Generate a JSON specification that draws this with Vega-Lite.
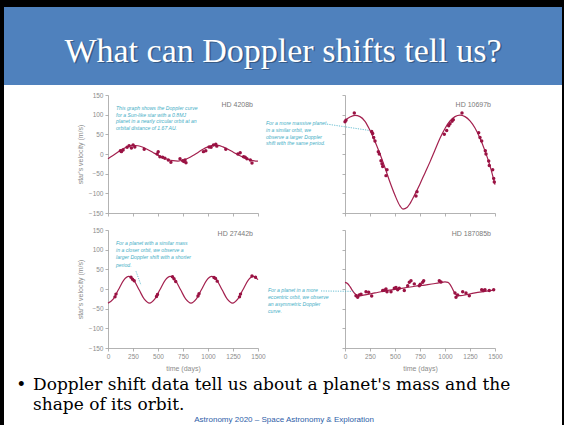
{
  "$schema": "https://vega.github.io/schema/vega-lite/v6.json",
  "padding": 0,
  "background": "white",
  "spacing": 0,
  "config": {
    "view": {"stroke": null},
    "concat": {"spacing": 0},
    "axis": {"grid": false, "domainColor": "#a0a0a0", "tickColor": "#a0a0a0", "domainWidth": 0.8, "tickWidth": 0.8, "tickSize": 3, "labelFont": "Liberation Sans", "labelFontSize": 6.5, "labelColor": "#8c8c8c", "labelPadding": 2, "labelOverlap": false, "labelFlush": false, "titleFont": "Liberation Sans", "titleFontSize": 7, "titleFontWeight": "normal", "titleColor": "#8c8c8c", "titlePadding": 5},
    "text": {"font": "Liberation Sans"}
  },
  "datasets": {
    "curves": [
      {"star":"HD 4208b","t":0,"v":-12},{"star":"HD 4208b","t":50,"v":-4},{"star":"HD 4208b","t":100,"v":5},{"star":"HD 4208b","t":150,"v":13},{"star":"HD 4208b","t":200,"v":19},{"star":"HD 4208b","t":250,"v":22},{"star":"HD 4208b","t":300,"v":21},{"star":"HD 4208b","t":350,"v":17},{"star":"HD 4208b","t":400,"v":11},{"star":"HD 4208b","t":450,"v":4},{"star":"HD 4208b","t":500,"v":-3},{"star":"HD 4208b","t":550,"v":-9},{"star":"HD 4208b","t":600,"v":-14},{"star":"HD 4208b","t":650,"v":-17},{"star":"HD 4208b","t":700,"v":-18},{"star":"HD 4208b","t":750,"v":-16},{"star":"HD 4208b","t":800,"v":-11},{"star":"HD 4208b","t":850,"v":-4},{"star":"HD 4208b","t":900,"v":4},{"star":"HD 4208b","t":950,"v":12},{"star":"HD 4208b","t":1000,"v":18},{"star":"HD 4208b","t":1050,"v":22},{"star":"HD 4208b","t":1100,"v":22},{"star":"HD 4208b","t":1150,"v":18},{"star":"HD 4208b","t":1200,"v":12},{"star":"HD 4208b","t":1250,"v":5},{"star":"HD 4208b","t":1300,"v":-2},{"star":"HD 4208b","t":1350,"v":-8},{"star":"HD 4208b","t":1400,"v":-13},{"star":"HD 4208b","t":1450,"v":-17},{"star":"HD 4208b","t":1500,"v":-18},
      {"star":"HD 10697b","t":0,"v":85},{"star":"HD 10697b","t":50,"v":94},{"star":"HD 10697b","t":100,"v":98},{"star":"HD 10697b","t":150,"v":95},{"star":"HD 10697b","t":200,"v":83},{"star":"HD 10697b","t":250,"v":60},{"star":"HD 10697b","t":300,"v":32},{"star":"HD 10697b","t":350,"v":0},{"star":"HD 10697b","t":400,"v":-35},{"star":"HD 10697b","t":450,"v":-72},{"star":"HD 10697b","t":500,"v":-105},{"star":"HD 10697b","t":550,"v":-132},{"star":"HD 10697b","t":580,"v":-140},{"star":"HD 10697b","t":620,"v":-136},{"star":"HD 10697b","t":650,"v":-126},{"star":"HD 10697b","t":700,"v":-102},{"star":"HD 10697b","t":750,"v":-76},{"star":"HD 10697b","t":800,"v":-48},{"star":"HD 10697b","t":850,"v":-20},{"star":"HD 10697b","t":900,"v":10},{"star":"HD 10697b","t":950,"v":40},{"star":"HD 10697b","t":1000,"v":65},{"star":"HD 10697b","t":1050,"v":84},{"star":"HD 10697b","t":1100,"v":95},{"star":"HD 10697b","t":1150,"v":99},{"star":"HD 10697b","t":1200,"v":95},{"star":"HD 10697b","t":1250,"v":84},{"star":"HD 10697b","t":1300,"v":66},{"star":"HD 10697b","t":1350,"v":40},{"star":"HD 10697b","t":1400,"v":8},{"star":"HD 10697b","t":1450,"v":-30},{"star":"HD 10697b","t":1500,"v":-78},
      {"star":"HD 27442b","t":0,"v":-36},{"star":"HD 27442b","t":52,"v":-26},{"star":"HD 27442b","t":104,"v":-2},{"star":"HD 27442b","t":156,"v":22},{"star":"HD 27442b","t":207,"v":32},{"star":"HD 27442b","t":259,"v":22},{"star":"HD 27442b","t":311,"v":-2},{"star":"HD 27442b","t":363,"v":-26},{"star":"HD 27442b","t":415,"v":-36},{"star":"HD 27442b","t":467,"v":-26},{"star":"HD 27442b","t":519,"v":-2},{"star":"HD 27442b","t":571,"v":22},{"star":"HD 27442b","t":622,"v":32},{"star":"HD 27442b","t":674,"v":22},{"star":"HD 27442b","t":726,"v":-2},{"star":"HD 27442b","t":778,"v":-26},{"star":"HD 27442b","t":830,"v":-36},{"star":"HD 27442b","t":882,"v":-26},{"star":"HD 27442b","t":934,"v":-2},{"star":"HD 27442b","t":986,"v":22},{"star":"HD 27442b","t":1037,"v":32},{"star":"HD 27442b","t":1089,"v":22},{"star":"HD 27442b","t":1141,"v":-2},{"star":"HD 27442b","t":1193,"v":-26},{"star":"HD 27442b","t":1245,"v":-36},{"star":"HD 27442b","t":1297,"v":-26},{"star":"HD 27442b","t":1349,"v":-2},{"star":"HD 27442b","t":1401,"v":22},{"star":"HD 27442b","t":1452,"v":32},{"star":"HD 27442b","t":1500,"v":24},
      {"star":"HD 187085b","t":0,"v":17},{"star":"HD 187085b","t":25,"v":14},{"star":"HD 187085b","t":50,"v":6},{"star":"HD 187085b","t":75,"v":-4},{"star":"HD 187085b","t":100,"v":-12},{"star":"HD 187085b","t":125,"v":-16},{"star":"HD 187085b","t":150,"v":-17},{"star":"HD 187085b","t":200,"v":-15},{"star":"HD 187085b","t":300,"v":-10},{"star":"HD 187085b","t":400,"v":-5},{"star":"HD 187085b","t":500,"v":-1},{"star":"HD 187085b","t":600,"v":3},{"star":"HD 187085b","t":700,"v":7},{"star":"HD 187085b","t":800,"v":10},{"star":"HD 187085b","t":900,"v":14},{"star":"HD 187085b","t":950,"v":16},{"star":"HD 187085b","t":1000,"v":18},{"star":"HD 187085b","t":1030,"v":17},{"star":"HD 187085b","t":1050,"v":12},{"star":"HD 187085b","t":1070,"v":3},{"star":"HD 187085b","t":1090,"v":-7},{"star":"HD 187085b","t":1110,"v":-14},{"star":"HD 187085b","t":1130,"v":-17},{"star":"HD 187085b","t":1160,"v":-17},{"star":"HD 187085b","t":1200,"v":-15},{"star":"HD 187085b","t":1300,"v":-10},{"star":"HD 187085b","t":1400,"v":-6},{"star":"HD 187085b","t":1500,"v":-2}
    ],
    "points": [
      {"star":"HD 4208b","t":124,"v":8},{"star":"HD 4208b","t":151,"v":10},{"star":"HD 4208b","t":134,"v":6},{"star":"HD 4208b","t":191,"v":17},{"star":"HD 4208b","t":211,"v":21},{"star":"HD 4208b","t":234,"v":15},{"star":"HD 4208b","t":251,"v":23},{"star":"HD 4208b","t":268,"v":18},{"star":"HD 4208b","t":362,"v":12},{"star":"HD 4208b","t":492,"v":0},{"star":"HD 4208b","t":502,"v":6},{"star":"HD 4208b","t":519,"v":-7},{"star":"HD 4208b","t":546,"v":-8},{"star":"HD 4208b","t":569,"v":-11},{"star":"HD 4208b","t":603,"v":-15},{"star":"HD 4208b","t":629,"v":-21},{"star":"HD 4208b","t":720,"v":-12},{"star":"HD 4208b","t":747,"v":-17},{"star":"HD 4208b","t":760,"v":-19},{"star":"HD 4208b","t":770,"v":-15},{"star":"HD 4208b","t":780,"v":-22},{"star":"HD 4208b","t":954,"v":6},{"star":"HD 4208b","t":978,"v":8},{"star":"HD 4208b","t":1011,"v":18},{"star":"HD 4208b","t":1031,"v":17},{"star":"HD 4208b","t":1055,"v":23},{"star":"HD 4208b","t":1078,"v":25},{"star":"HD 4208b","t":1088,"v":20},{"star":"HD 4208b","t":1178,"v":12},{"star":"HD 4208b","t":1299,"v":0},{"star":"HD 4208b","t":1322,"v":3},{"star":"HD 4208b","t":1356,"v":-7},{"star":"HD 4208b","t":1372,"v":-8},{"star":"HD 4208b","t":1389,"v":-12},{"star":"HD 4208b","t":1423,"v":-15},{"star":"HD 4208b","t":1440,"v":-23},
      {"star":"HD 10697b","t":0,"v":82},{"star":"HD 10697b","t":10,"v":86},{"star":"HD 10697b","t":93,"v":104},{"star":"HD 10697b","t":267,"v":57},{"star":"HD 10697b","t":277,"v":52},{"star":"HD 10697b","t":287,"v":42},{"star":"HD 10697b","t":300,"v":33},{"star":"HD 10697b","t":333,"v":6},{"star":"HD 10697b","t":343,"v":0},{"star":"HD 10697b","t":360,"v":-17},{"star":"HD 10697b","t":370,"v":-25},{"star":"HD 10697b","t":377,"v":-32},{"star":"HD 10697b","t":410,"v":-55},{"star":"HD 10697b","t":420,"v":-40},{"star":"HD 10697b","t":710,"v":-107},{"star":"HD 10697b","t":720,"v":-96},{"star":"HD 10697b","t":993,"v":50},{"star":"HD 10697b","t":1017,"v":60},{"star":"HD 10697b","t":1037,"v":72},{"star":"HD 10697b","t":1050,"v":77},{"star":"HD 10697b","t":1070,"v":83},{"star":"HD 10697b","t":1083,"v":87},{"star":"HD 10697b","t":1170,"v":104},{"star":"HD 10697b","t":1337,"v":54},{"star":"HD 10697b","t":1350,"v":42},{"star":"HD 10697b","t":1367,"v":33},{"star":"HD 10697b","t":1403,"v":8},{"star":"HD 10697b","t":1410,"v":0},{"star":"HD 10697b","t":1437,"v":-18},{"star":"HD 10697b","t":1443,"v":-29},{"star":"HD 10697b","t":1477,"v":-40},{"star":"HD 10697b","t":1487,"v":-62},{"star":"HD 10697b","t":1493,"v":-71},
      {"star":"HD 27442b","t":70,"v":-20},{"star":"HD 27442b","t":80,"v":-13},{"star":"HD 27442b","t":230,"v":30},{"star":"HD 27442b","t":245,"v":25},{"star":"HD 27442b","t":262,"v":21},{"star":"HD 27442b","t":485,"v":-19},{"star":"HD 27442b","t":495,"v":-14},{"star":"HD 27442b","t":645,"v":31},{"star":"HD 27442b","t":660,"v":26},{"star":"HD 27442b","t":677,"v":19},{"star":"HD 27442b","t":900,"v":-18},{"star":"HD 27442b","t":910,"v":-12},{"star":"HD 27442b","t":1060,"v":29},{"star":"HD 27442b","t":1075,"v":27},{"star":"HD 27442b","t":1092,"v":20},{"star":"HD 27442b","t":1315,"v":-20},{"star":"HD 27442b","t":1325,"v":-13},{"star":"HD 27442b","t":1440,"v":33},{"star":"HD 27442b","t":1475,"v":30},
      {"star":"HD 187085b","t":110,"v":-17},{"star":"HD 187085b","t":127,"v":-21},{"star":"HD 187085b","t":143,"v":-15},{"star":"HD 187085b","t":160,"v":-13},{"star":"HD 187085b","t":210,"v":-7},{"star":"HD 187085b","t":237,"v":-8},{"star":"HD 187085b","t":267,"v":-18},{"star":"HD 187085b","t":377,"v":-4},{"star":"HD 187085b","t":393,"v":-3},{"star":"HD 187085b","t":410,"v":0},{"star":"HD 187085b","t":420,"v":-7},{"star":"HD 187085b","t":460,"v":-7},{"star":"HD 187085b","t":493,"v":2},{"star":"HD 187085b","t":510,"v":4},{"star":"HD 187085b","t":527,"v":-2},{"star":"HD 187085b","t":543,"v":2},{"star":"HD 187085b","t":593,"v":-4},{"star":"HD 187085b","t":627,"v":8},{"star":"HD 187085b","t":643,"v":17},{"star":"HD 187085b","t":660,"v":21},{"star":"HD 187085b","t":693,"v":13},{"star":"HD 187085b","t":743,"v":8},{"star":"HD 187085b","t":753,"v":12},{"star":"HD 187085b","t":777,"v":17},{"star":"HD 187085b","t":787,"v":21},{"star":"HD 187085b","t":943,"v":21},{"star":"HD 187085b","t":960,"v":18},{"star":"HD 187085b","t":1100,"v":-10},{"star":"HD 187085b","t":1110,"v":-21},{"star":"HD 187085b","t":1127,"v":-15},{"star":"HD 187085b","t":1177,"v":-7},{"star":"HD 187085b","t":1210,"v":-10},{"star":"HD 187085b","t":1243,"v":-17},{"star":"HD 187085b","t":1367,"v":-2},{"star":"HD 187085b","t":1383,"v":-4},{"star":"HD 187085b","t":1400,"v":-2},{"star":"HD 187085b","t":1443,"v":-4},{"star":"HD 187085b","t":1487,"v":-2}
    ]
  },
  "hconcat": [
    {"width": 4, "height": 425, "view": {"fill": "#000000", "stroke": null}, "data": {"values": []}, "mark": "point"},
    {
      "spacing": 0,
      "vconcat": [
        {"width": 558, "height": 7, "view": {"fill": "#000000", "stroke": null}, "data": {"values": []}, "mark": "point"},
        {
          "width": 558, "height": 78,
          "view": {"fill": "#4f81bd", "stroke": null},
          "data": {"values": [{"title": "What can Doppler shifts tell us?"}]},
          "encoding": {
            "x": {"datum": 0.5, "type": "quantitative", "scale": {"domain": [0, 1]}, "axis": null},
            "y": {"datum": 0.7, "type": "quantitative", "scale": {"domain": [0, 1], "reverse": true}, "axis": null},
            "text": {"field": "title"}
          },
          "layer": [
            {"mark": {"type": "text", "font": "Liberation Serif", "fontSize": 34, "align": "center", "baseline": "alphabetic", "color": "#1c2f45", "opacity": 0.45, "dx": 1.5, "dy": 1.5}},
            {"mark": {"type": "text", "font": "Liberation Serif", "fontSize": 34, "align": "center", "baseline": "alphabetic", "color": "#ffffff"}}
          ]
        },
        {"width": 558, "height": 7, "data": {"values": []}, "mark": "point"},
        {
          "columns": 3,
          "align": "each",
          "spacing": {"row": 10, "column": 0},
          "concat": [
            {"width": 72, "height": 5, "data": {"values": []}, "mark": "point"},
            {
              "width": 150, "height": 118,
              "layer": [
                {"data": {"name": "curves"}, "transform": [{"filter": "datum.star === 'HD 4208b'"}], "mark": {"type": "line", "color": "#a3204e", "strokeWidth": 1.2, "interpolate": "monotone"},
                 "encoding": {
                   "x": {"field": "t", "type": "quantitative", "title": null, "scale": {"domain": [0, 1500], "nice": false}, "axis": {"values": [0, 250, 500, 750, 1000, 1250, 1500], "labels": false, "labelOverlap": false, "format": "d"}},
                   "y": {"field": "v", "type": "quantitative", "title": "star's velocity (m/s)", "scale": {"domain": [-150, 150], "nice": false}, "axis": {"values": [-150, -100, -50, 0, 50, 100, 150], "labelOverlap": false, "format": "d"}}
                 }},
                {"data": {"name": "points"}, "transform": [{"filter": "datum.star === 'HD 4208b'"}], "mark": {"type": "point", "shape": "circle", "filled": true, "size": 12, "color": "#9a1243", "opacity": 1},
                 "encoding": {
                   "x": {"field": "t", "type": "quantitative", "title": null, "axis": {"values": [0, 250, 500, 750, 1000, 1250, 1500], "labels": false, "labelOverlap": false, "format": "d"}},
                   "y": {"field": "v", "type": "quantitative", "title": "star's velocity (m/s)", "axis": {"values": [-150, -100, -50, 0, 50, 100, 150], "labelOverlap": false, "format": "d"}}
                 }},
                {"data": {"values": [{"note": "This graph shows the Doppler curve\nfor a Sun-like star with a 0.8MJ\nplanet in a nearly circular orbit at an\norbital distance of 1.67 AU."}]}, "mark": {"type": "text", "lineBreak": "\n", "align": "left", "baseline": "top", "font": "Liberation Sans, sans-serif", "fontStyle": "italic", "fontSize": 5.1, "lineHeight": 6.5, "color": "#45aec6"},
                 "encoding": {
                   "x": {"datum": 80, "type": "quantitative", "title": null, "axis": {"values": [0, 250, 500, 750, 1000, 1250, 1500], "labels": false, "labelOverlap": false, "format": "d"}},
                   "y": {"datum": 122, "type": "quantitative", "title": "star's velocity (m/s)", "axis": {"values": [-150, -100, -50, 0, 50, 100, 150], "labelOverlap": false, "format": "d"}},
                   "text": {"field": "note"}
                 }},
                {"data": {"values": [{"name": "HD 4208b"}]}, "mark": {"type": "text", "align": "right", "baseline": "middle", "fontSize": 7, "color": "#7a7a7a"},
                 "encoding": {
                   "x": {"datum": 1450, "type": "quantitative", "title": null, "axis": {"values": [0, 250, 500, 750, 1000, 1250, 1500], "labels": false, "labelOverlap": false, "format": "d"}},
                   "y": {"datum": 125, "type": "quantitative", "title": "star's velocity (m/s)", "axis": {"values": [-150, -100, -50, 0, 50, 100, 150], "labelOverlap": false, "format": "d"}},
                   "text": {"field": "name"}
                 }}
              ]
            },
            {
              "width": 150, "height": 118,
              "layer": [
                {"data": {"name": "curves"}, "transform": [{"filter": "datum.star === 'HD 10697b'"}], "mark": {"type": "line", "color": "#a3204e", "strokeWidth": 1.2, "interpolate": "monotone"},
                 "encoding": {
                   "x": {"field": "t", "type": "quantitative", "title": null, "scale": {"domain": [0, 1500], "nice": false}, "axis": {"values": [0, 250, 500, 750, 1000, 1250, 1500], "labels": false, "labelOverlap": false, "format": "d"}},
                   "y": {"field": "v", "type": "quantitative", "title": null, "scale": {"domain": [-150, 150], "nice": false}, "axis": {"values": [-150, -100, -50, 0, 50, 100, 150], "labels": false, "labelOverlap": false, "format": "d"}}
                 }},
                {"data": {"name": "points"}, "transform": [{"filter": "datum.star === 'HD 10697b'"}], "mark": {"type": "point", "shape": "circle", "filled": true, "size": 12, "color": "#9a1243", "opacity": 1},
                 "encoding": {
                   "x": {"field": "t", "type": "quantitative", "title": null, "axis": {"values": [0, 250, 500, 750, 1000, 1250, 1500], "labels": false, "labelOverlap": false, "format": "d"}},
                   "y": {"field": "v", "type": "quantitative", "title": null, "axis": {"values": [-150, -100, -50, 0, 50, 100, 150], "labels": false, "labelOverlap": false, "format": "d"}}
                 }},
                {"data": {"values": [{"note": "For a more massive planet\nin a similar orbit, we\nobserve a larger Doppler\nshift with the same period."}]}, "mark": {"type": "text", "lineBreak": "\n", "align": "left", "baseline": "top", "font": "Liberation Sans, sans-serif", "fontStyle": "italic", "fontSize": 5.1, "lineHeight": 6.8, "color": "#45aec6"},
                 "encoding": {
                   "x": {"datum": -790, "type": "quantitative", "title": null, "axis": {"values": [0, 250, 500, 750, 1000, 1250, 1500], "labels": false, "labelOverlap": false, "format": "d"}},
                   "y": {"datum": 84, "type": "quantitative", "title": null, "axis": {"values": [-150, -100, -50, 0, 50, 100, 150], "labels": false, "labelOverlap": false, "format": "d"}},
                   "text": {"field": "note"}
                 }},
                {"data": {"values": [{}]}, "mark": {"type": "rule", "strokeDash": [1.2, 1.2], "strokeWidth": 0.8, "color": "#45aec6"},
                 "encoding": {
                   "x": {"datum": -180, "type": "quantitative", "title": null, "axis": {"values": [0, 250, 500, 750, 1000, 1250, 1500], "labels": false, "labelOverlap": false, "format": "d"}},
                   "y": {"datum": 76, "type": "quantitative", "title": null, "axis": {"values": [-150, -100, -50, 0, 50, 100, 150], "labels": false, "labelOverlap": false, "format": "d"}},
                   "x2": {"datum": 240}, "y2": {"datum": 60}
                 }},
                {"data": {"values": [{"name": "HD 10697b"}]}, "mark": {"type": "text", "align": "right", "baseline": "middle", "fontSize": 7, "color": "#7a7a7a"},
                 "encoding": {
                   "x": {"datum": 1460, "type": "quantitative", "title": null, "axis": {"values": [0, 250, 500, 750, 1000, 1250, 1500], "labels": false, "labelOverlap": false, "format": "d"}},
                   "y": {"datum": 125, "type": "quantitative", "title": null, "axis": {"values": [-150, -100, -50, 0, 50, 100, 150], "labels": false, "labelOverlap": false, "format": "d"}},
                   "text": {"field": "name"}
                 }}
              ]
            },
            {"width": 72, "height": 5, "data": {"values": []}, "mark": "point"},
            {
              "width": 150, "height": 118,
              "layer": [
                {"data": {"name": "curves"}, "transform": [{"filter": "datum.star === 'HD 27442b'"}], "mark": {"type": "line", "color": "#a3204e", "strokeWidth": 1.2, "interpolate": "monotone"},
                 "encoding": {
                   "x": {"field": "t", "type": "quantitative", "title": "time (days)", "scale": {"domain": [0, 1500], "nice": false}, "axis": {"values": [0, 250, 500, 750, 1000, 1250, 1500], "labelOverlap": false, "format": "d"}},
                   "y": {"field": "v", "type": "quantitative", "title": "star's velocity (m/s)", "scale": {"domain": [-150, 150], "nice": false}, "axis": {"values": [-150, -100, -50, 0, 50, 100, 150], "labelOverlap": false, "format": "d"}}
                 }},
                {"data": {"name": "points"}, "transform": [{"filter": "datum.star === 'HD 27442b'"}], "mark": {"type": "point", "shape": "circle", "filled": true, "size": 12, "color": "#9a1243", "opacity": 1},
                 "encoding": {
                   "x": {"field": "t", "type": "quantitative", "title": "time (days)", "axis": {"values": [0, 250, 500, 750, 1000, 1250, 1500], "labelOverlap": false, "format": "d"}},
                   "y": {"field": "v", "type": "quantitative", "title": "star's velocity (m/s)", "axis": {"values": [-150, -100, -50, 0, 50, 100, 150], "labelOverlap": false, "format": "d"}}
                 }},
                {"data": {"values": [{"note": "For a planet with a similar mass\nin a closer orbit, we observe a\nlarger Doppler shift with a shorter\nperiod."}]}, "mark": {"type": "text", "lineBreak": "\n", "align": "left", "baseline": "top", "font": "Liberation Sans, sans-serif", "fontStyle": "italic", "fontSize": 5.1, "lineHeight": 7.2, "color": "#45aec6"},
                 "encoding": {
                   "x": {"datum": 80, "type": "quantitative", "title": "time (days)", "axis": {"values": [0, 250, 500, 750, 1000, 1250, 1500], "labelOverlap": false, "format": "d"}},
                   "y": {"datum": 122, "type": "quantitative", "title": "star's velocity (m/s)", "axis": {"values": [-150, -100, -50, 0, 50, 100, 150], "labelOverlap": false, "format": "d"}},
                   "text": {"field": "note"}
                 }},
                {"data": {"values": [{}]}, "mark": {"type": "rule", "strokeDash": [1.2, 1.2], "strokeWidth": 0.8, "color": "#45aec6"},
                 "encoding": {
                   "x": {"datum": 280, "type": "quantitative", "title": "time (days)", "axis": {"values": [0, 250, 500, 750, 1000, 1250, 1500], "labelOverlap": false, "format": "d"}},
                   "y": {"datum": 45, "type": "quantitative", "title": "star's velocity (m/s)", "axis": {"values": [-150, -100, -50, 0, 50, 100, 150], "labelOverlap": false, "format": "d"}},
                   "x2": {"datum": 330}, "y2": {"datum": 10}
                 }},
                {"data": {"values": [{"name": "HD 27442b"}]}, "mark": {"type": "text", "align": "right", "baseline": "middle", "fontSize": 7, "color": "#7a7a7a"},
                 "encoding": {
                   "x": {"datum": 1450, "type": "quantitative", "title": "time (days)", "axis": {"values": [0, 250, 500, 750, 1000, 1250, 1500], "labelOverlap": false, "format": "d"}},
                   "y": {"datum": 140, "type": "quantitative", "title": "star's velocity (m/s)", "axis": {"values": [-150, -100, -50, 0, 50, 100, 150], "labelOverlap": false, "format": "d"}},
                   "text": {"field": "name"}
                 }}
              ]
            },
            {
              "width": 150, "height": 118,
              "layer": [
                {"data": {"name": "curves"}, "transform": [{"filter": "datum.star === 'HD 187085b'"}], "mark": {"type": "line", "color": "#a3204e", "strokeWidth": 1.2, "interpolate": "monotone"},
                 "encoding": {
                   "x": {"field": "t", "type": "quantitative", "title": "time (days)", "scale": {"domain": [0, 1500], "nice": false}, "axis": {"values": [0, 250, 500, 750, 1000, 1250, 1500], "labelOverlap": false, "format": "d"}},
                   "y": {"field": "v", "type": "quantitative", "title": null, "scale": {"domain": [-150, 150], "nice": false}, "axis": {"values": [-150, -100, -50, 0, 50, 100, 150], "labels": false, "labelOverlap": false, "format": "d"}}
                 }},
                {"data": {"name": "points"}, "transform": [{"filter": "datum.star === 'HD 187085b'"}], "mark": {"type": "point", "shape": "circle", "filled": true, "size": 12, "color": "#9a1243", "opacity": 1},
                 "encoding": {
                   "x": {"field": "t", "type": "quantitative", "title": "time (days)", "axis": {"values": [0, 250, 500, 750, 1000, 1250, 1500], "labelOverlap": false, "format": "d"}},
                   "y": {"field": "v", "type": "quantitative", "title": null, "axis": {"values": [-150, -100, -50, 0, 50, 100, 150], "labels": false, "labelOverlap": false, "format": "d"}}
                 }},
                {"data": {"values": [{"note": "For a planet in a more\neccentric orbit, we observe\nan asymmetric Doppler\ncurve."}]}, "mark": {"type": "text", "lineBreak": "\n", "align": "left", "baseline": "top", "font": "Liberation Sans, sans-serif", "fontStyle": "italic", "fontSize": 5.1, "lineHeight": 7.2, "color": "#45aec6"},
                 "encoding": {
                   "x": {"datum": -770, "type": "quantitative", "title": "time (days)", "axis": {"values": [0, 250, 500, 750, 1000, 1250, 1500], "labelOverlap": false, "format": "d"}},
                   "y": {"datum": 3, "type": "quantitative", "title": null, "axis": {"values": [-150, -100, -50, 0, 50, 100, 150], "labels": false, "labelOverlap": false, "format": "d"}},
                   "text": {"field": "note"}
                 }},
                {"data": {"values": [{}]}, "mark": {"type": "rule", "strokeDash": [1.2, 1.2], "strokeWidth": 0.8, "color": "#45aec6"},
                 "encoding": {
                   "x": {"datum": -240, "type": "quantitative", "title": "time (days)", "axis": {"values": [0, 250, 500, 750, 1000, 1250, 1500], "labelOverlap": false, "format": "d"}},
                   "y": {"datum": -5, "type": "quantitative", "title": null, "axis": {"values": [-150, -100, -50, 0, 50, 100, 150], "labels": false, "labelOverlap": false, "format": "d"}},
                   "x2": {"datum": 80}, "y2": {"datum": -6}
                 }},
                {"data": {"values": [{"name": "HD 187085b"}]}, "mark": {"type": "text", "align": "right", "baseline": "middle", "fontSize": 7, "color": "#7a7a7a"},
                 "encoding": {
                   "x": {"datum": 1460, "type": "quantitative", "title": "time (days)", "axis": {"values": [0, 250, 500, 750, 1000, 1250, 1500], "labelOverlap": false, "format": "d"}},
                   "y": {"datum": 140, "type": "quantitative", "title": null, "axis": {"values": [-150, -100, -50, 0, 50, 100, 150], "labels": false, "labelOverlap": false, "format": "d"}},
                   "text": {"field": "name"}
                 }}
              ]
            }
          ]
        },
        {
          "width": 558, "height": 54,
          "data": {"values": [{"b": "•", "l1": "Doppler shift data tell us about a planet's mass and the", "l2": "shape of its orbit.", "f": "Astronomy 2020 – Space Astronomy & Exploration"}]},
          "layer": [
            {"mark": {"type": "text", "font": "DejaVu Serif", "fontSize": 17, "align": "left", "baseline": "alphabetic", "color": "#000000"}, "encoding": {"x": {"datum": 0.022, "type": "quantitative", "scale": {"domain": [0, 1]}, "axis": null}, "y": {"datum": 0.333, "type": "quantitative", "scale": {"domain": [0, 1], "reverse": true}, "axis": null}, "text": {"field": "b"}}},
            {"mark": {"type": "text", "font": "DejaVu Serif", "fontSize": 17, "align": "left", "baseline": "alphabetic", "color": "#000000"}, "encoding": {"x": {"datum": 0.052, "type": "quantitative", "scale": {"domain": [0, 1]}, "axis": null}, "y": {"datum": 0.333, "type": "quantitative", "scale": {"domain": [0, 1], "reverse": true}, "axis": null}, "text": {"field": "l1"}}},
            {"mark": {"type": "text", "font": "DejaVu Serif", "fontSize": 17, "align": "left", "baseline": "alphabetic", "color": "#000000"}, "encoding": {"x": {"datum": 0.052, "type": "quantitative", "scale": {"domain": [0, 1]}, "axis": null}, "y": {"datum": 0.707, "type": "quantitative", "scale": {"domain": [0, 1], "reverse": true}, "axis": null}, "text": {"field": "l2"}}},
            {"mark": {"type": "text", "font": "Liberation Sans", "fontSize": 8, "align": "center", "baseline": "alphabetic", "color": "#2e5ea8"}, "encoding": {"x": {"datum": 0.502, "type": "quantitative", "scale": {"domain": [0, 1]}, "axis": null}, "y": {"datum": 0.93, "type": "quantitative", "scale": {"domain": [0, 1], "reverse": true}, "axis": null}, "text": {"field": "f"}}}
          ]
        }
      ]
    },
    {"width": 2, "height": 425, "view": {"fill": "#000000", "stroke": null}, "data": {"values": []}, "mark": "point"}
  ]
}
